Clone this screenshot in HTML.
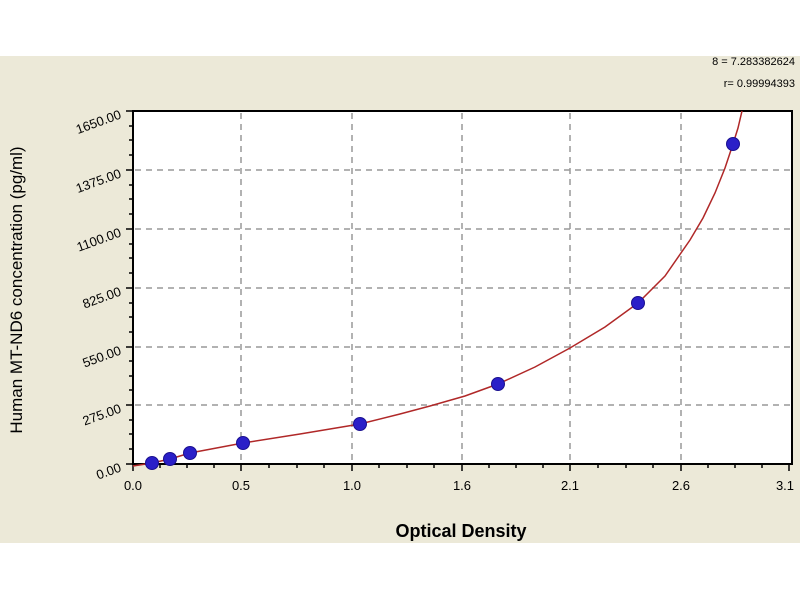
<!DOCTYPE html>
<html><head><meta charset="utf-8"><style>
body{margin:0;background:#fff;}
svg{display:block;font-family:"Liberation Sans",sans-serif;}
</style></head><body>
<svg width="800" height="600" viewBox="0 0 800 600">
<rect x="0" y="0" width="800" height="600" fill="#fff"/>
<rect x="0" y="56" width="800" height="487" fill="#ECE9D8"/>
<rect x="133" y="111" width="659" height="353" fill="#fff"/>
<g stroke="#999" stroke-width="1.5" stroke-dasharray="6,5" fill="none">
<line x1="241" y1="113" x2="241" y2="462"/>
<line x1="352" y1="113" x2="352" y2="462"/>
<line x1="462" y1="113" x2="462" y2="462"/>
<line x1="570" y1="113" x2="570" y2="462"/>
<line x1="681" y1="113" x2="681" y2="462"/>
<line x1="135" y1="170" x2="790" y2="170"/>
<line x1="135" y1="229" x2="790" y2="229"/>
<line x1="135" y1="288" x2="790" y2="288"/>
<line x1="135" y1="347" x2="790" y2="347"/>
<line x1="135" y1="405" x2="790" y2="405"/>
</g>
<rect x="133" y="111" width="659" height="353" fill="none" stroke="#000" stroke-width="2"/>
<g stroke="#000" stroke-width="1.5">
<line x1="126" y1="111" x2="133" y2="111"/><line x1="126" y1="170" x2="133" y2="170"/><line x1="126" y1="229" x2="133" y2="229"/><line x1="126" y1="288" x2="133" y2="288"/><line x1="126" y1="347" x2="133" y2="347"/><line x1="126" y1="405" x2="133" y2="405"/><line x1="126" y1="464" x2="133" y2="464"/>
<line x1="133" y1="464" x2="133" y2="471"/><line x1="241" y1="464" x2="241" y2="471"/><line x1="352" y1="464" x2="352" y2="471"/><line x1="462" y1="464" x2="462" y2="471"/><line x1="570" y1="464" x2="570" y2="471"/><line x1="681" y1="464" x2="681" y2="471"/><line x1="789" y1="464" x2="789" y2="471"/>
</g>
<g stroke="#000" stroke-width="1.5">
<line x1="129" y1="126" x2="133" y2="126"/><line x1="129" y1="140" x2="133" y2="140"/><line x1="129" y1="155" x2="133" y2="155"/>
<line x1="129" y1="185" x2="133" y2="185"/><line x1="129" y1="199" x2="133" y2="199"/><line x1="129" y1="214" x2="133" y2="214"/>
<line x1="129" y1="244" x2="133" y2="244"/><line x1="129" y1="258" x2="133" y2="258"/><line x1="129" y1="273" x2="133" y2="273"/>
<line x1="129" y1="303" x2="133" y2="303"/><line x1="129" y1="317" x2="133" y2="317"/><line x1="129" y1="332" x2="133" y2="332"/>
<line x1="129" y1="361" x2="133" y2="361"/><line x1="129" y1="376" x2="133" y2="376"/><line x1="129" y1="390" x2="133" y2="390"/>
<line x1="129" y1="420" x2="133" y2="420"/><line x1="129" y1="434" x2="133" y2="434"/><line x1="129" y1="449" x2="133" y2="449"/>
<line x1="160" y1="464" x2="160" y2="468"/><line x1="187" y1="464" x2="187" y2="468"/><line x1="214" y1="464" x2="214" y2="468"/>
<line x1="269" y1="464" x2="269" y2="468"/><line x1="297" y1="464" x2="297" y2="468"/><line x1="324" y1="464" x2="324" y2="468"/>
<line x1="379" y1="464" x2="379" y2="468"/><line x1="407" y1="464" x2="407" y2="468"/><line x1="434" y1="464" x2="434" y2="468"/>
<line x1="489" y1="464" x2="489" y2="468"/><line x1="516" y1="464" x2="516" y2="468"/><line x1="543" y1="464" x2="543" y2="468"/>
<line x1="598" y1="464" x2="598" y2="468"/><line x1="626" y1="464" x2="626" y2="468"/><line x1="653" y1="464" x2="653" y2="468"/>
<line x1="708" y1="464" x2="708" y2="468"/><line x1="735" y1="464" x2="735" y2="468"/><line x1="762" y1="464" x2="762" y2="468"/>
</g>
<g font-size="13" fill="#000" text-anchor="end">
<text transform="translate(122,118) rotate(-20)">1650.00</text>
<text transform="translate(122,177) rotate(-20)">1375.00</text>
<text transform="translate(122,236) rotate(-20)">1100.00</text>
<text transform="translate(122,295) rotate(-20)">825.00</text>
<text transform="translate(122,354) rotate(-20)">550.00</text>
<text transform="translate(122,412) rotate(-20)">275.00</text>
<text transform="translate(122,471) rotate(-20)">0.00</text>
</g>
<g font-size="13" fill="#000" text-anchor="middle">
<text x="133" y="490">0.0</text><text x="241" y="490">0.5</text><text x="352" y="490">1.0</text><text x="462" y="490">1.6</text><text x="570" y="490">2.1</text><text x="681" y="490">2.6</text><text x="785" y="490">3.1</text>
</g>
<text x="461" y="537" font-size="18" font-weight="bold" text-anchor="middle">Optical Density</text>
<text transform="translate(22,290) rotate(-90)" font-size="17" text-anchor="middle">Human  MT-ND6 concentration (pg/ml)</text>
<text x="795" y="65" font-size="11" text-anchor="end">8 = 7.283382624</text>
<text x="795" y="87" font-size="11" text-anchor="end">r= 0.99994393</text>
<polyline fill="none" stroke="#B02828" stroke-width="1.5" points="133,466 152,463 170,459 190,453 243,443 300,434 360,424 400,414 430,406 465,396 498,384 535,367 570,348 605,327 638,303 665,276 690,240 703,218 715,193 725,168 733,144 738,128 742,111"/>
<g fill="#2A1FC8" stroke="#1a1090" stroke-width="1">
<circle cx="152" cy="463" r="6.5"/><circle cx="170" cy="459" r="6.5"/><circle cx="190" cy="453" r="6.5"/><circle cx="243" cy="443" r="6.5"/><circle cx="360" cy="424" r="6.5"/><circle cx="498" cy="384" r="6.5"/><circle cx="638" cy="303" r="6.5"/><circle cx="733" cy="144" r="6.5"/>
</g>
</svg>
</body></html>
